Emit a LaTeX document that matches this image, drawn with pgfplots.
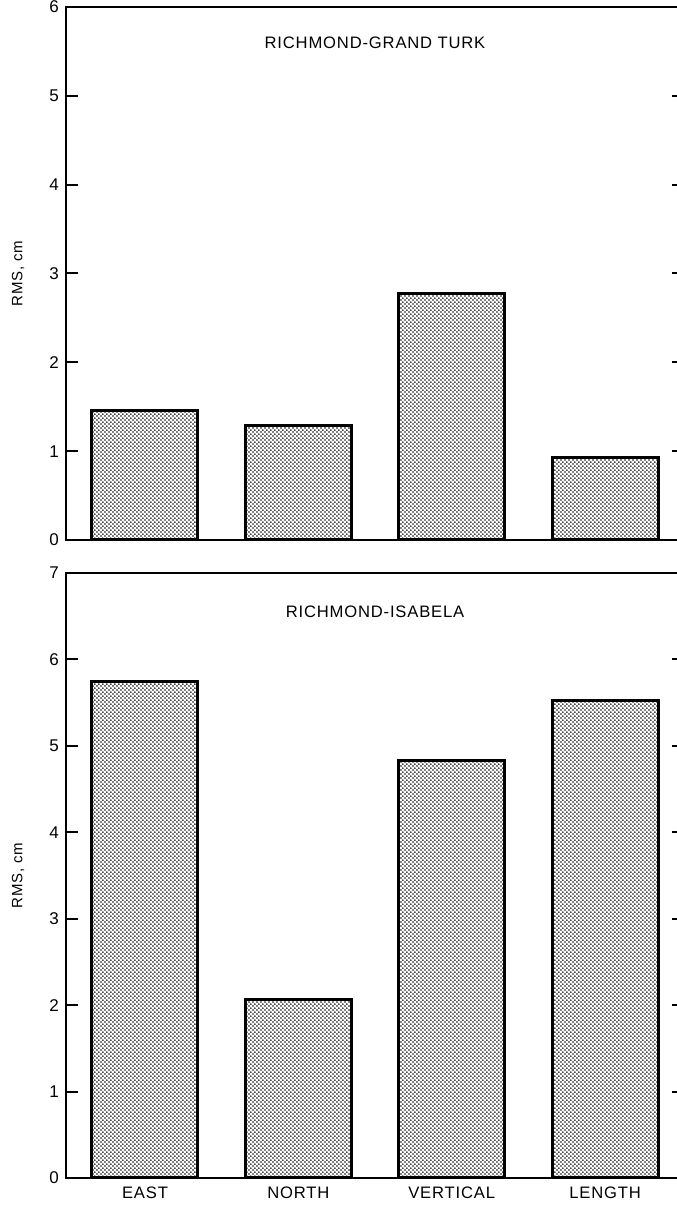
\documentclass[border=0pt]{standalone}
\usepackage{fontspec}
\setmainfont{Liberation Sans}
\newfontfamily\lsfont[LetterSpace=5]{Liberation Sans}
\usepackage{pgfplots}
\pgfplotsset{compat=1.18}
\usetikzlibrary{patterns}

\pgfdeclarepatternformonly{mydots}{\pgfqpoint{0pt}{0pt}}{\pgfqpoint{2.2pt}{2.2pt}}{\pgfqpoint{2.2pt}{2.2pt}}{%
  \pgfpathcircle{\pgfqpoint{0.55pt}{0.55pt}}{0.48pt}%
  \pgfpathcircle{\pgfqpoint{1.65pt}{1.65pt}}{0.48pt}%
  \pgfusepath{fill}}

\pgfplotsset{
  myax/.style={
    scale only axis,
    width=309pt,
    xmin=-0.515, xmax=3.515, ymin=0,
    xtick={0,1,2,3},
    axis line style={line width=1.2pt},
    major tick length=6pt,
    tick style={line width=1pt, black},
    x tick style={draw=none},
    tick align=inside,
    ytick pos=both,
    /pgf/number format/assume math mode=true,
    y tick label style={font=\fontsize{8.5}{9}\selectfont},
    x tick label style={font=\lsfont\fontsize{8.3}{9}\selectfont, yshift=-1pt},
    ylabel={RMS, cm},
    ylabel style={at={([xshift=-24pt]axis description cs:0,0.5)}, anchor=center, font=\lsfont\fontsize{7.5}{8}\selectfont},
  },
  mybar/.style={ybar, bar width=53pt, bar shift=0pt, draw=black, line width=1.5pt,
    pattern=mydots, pattern color=black},
}

\begin{document}
\begin{tikzpicture}
% top panel
\begin{axis}[myax,
  at={(33pt,332.5pt)}, anchor=south west,
  height=266.5pt,
  ymax=6, ytick={0,1,2,3,4,5,6},
  xticklabels={},
]
\addplot[mybar] coordinates {(0,1.46) (1,1.29) (2,2.78) (3,0.93)};
\node[font=\lsfont\fontsize{8.3}{9}\selectfont, anchor=center, yshift=-18pt] at (axis description cs:0.5,1) {RICHMOND-GRAND TURK};
\end{axis}
% bottom panel
\begin{axis}[myax,
  at={(33pt,13.5pt)}, anchor=south west,
  height=302.5pt,
  ymax=7, ytick={0,1,2,3,4,5,6,7},
  xticklabels={EAST,NORTH,VERTICAL,LENGTH},
]
\addplot[mybar] coordinates {(0,5.74) (1,2.06) (2,4.83) (3,5.53)};
\node[font=\lsfont\fontsize{8.3}{9}\selectfont, anchor=center, yshift=-19.5pt] at (axis description cs:0.5,1) {RICHMOND-ISABELA};
\end{axis}
\pgfresetboundingbox
\path[use as bounding box] (0,0) rectangle (338pt,602.5pt);
\end{tikzpicture}
\end{document}
